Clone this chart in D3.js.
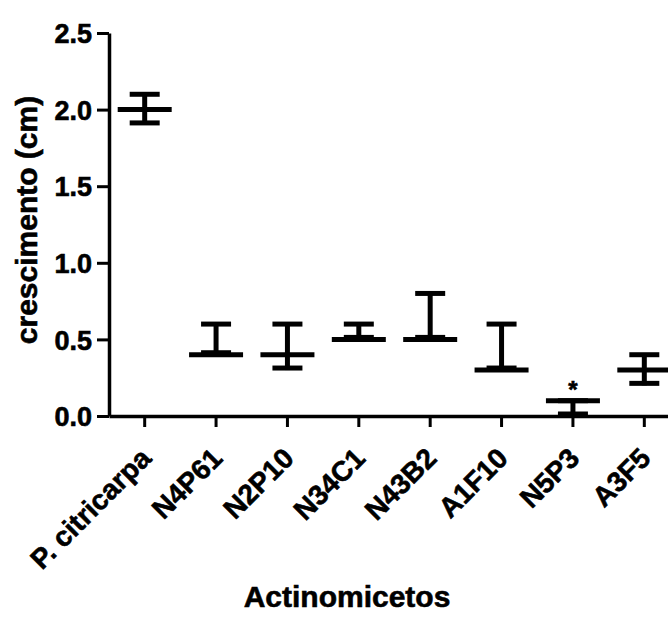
<!DOCTYPE html>
<html>
<head>
<meta charset="utf-8">
<script src="https://cdn.jsdelivr.net/npm/d3@7/dist/d3.min.js"></script>
<style>
  body { margin: 0; background: #fff; }
  svg { display: block; }
  text { font-family: "Liberation Sans", Arial, sans-serif; font-weight: bold; fill: #000; stroke: #000; stroke-width: 0.6px; }
</style>
</head>
<body>
<div id="chart"></div>
<script>
// values
const categories = ["P. citricarpa", "N4P61", "N2P10", "N34C1", "N43B2", "A1F10", "N5P3", "A3F5"];
const centers = [2.0, 0.4, 0.4, 0.5, 0.5, 0.3, 0.1, 0.3];
const lows = [1.9, 0.4, 0.3, 0.5, 0.5, 0.3, 0.0, 0.2];
const highs = [2.1, 0.6, 0.6, 0.6, 0.8, 0.6, 0.1, 0.4];
const marks = ["", "", "", "", "", "", "*", ""];
const yTicks = [0, 0.5, 1.0, 1.5, 2.0, 2.5];

const width = 668;
const height = 618;

const svg = d3.select("#chart")
    .append("svg")
    .attr("width", width)
    .attr("height", height);

const x = d3.scaleBand()
    .domain(categories)
    .range([109, 680])
    .padding(0);

const y = d3.scaleLinear()
    .domain([0, 2.5])
    .range([416, 33]);

const data = categories.map((c, i) => ({
    name: c,
    center: centers[i],
    low: lows[i],
    high: highs[i],
    mark: marks[i],
}));

// Y axis
const yAxis = svg.append("g")
    .attr("transform", "translate(109,0)")
    .call(d3.axisLeft(y).tickValues(yTicks).tickFormat(d3.format(".1f")).tickSize(12).tickSizeOuter(0).tickPadding(5));
yAxis.select(".domain").attr("stroke", "#000").attr("stroke-width", 3.5);
yAxis.selectAll(".tick line").attr("stroke", "#000").attr("stroke-width", 3);
yAxis.selectAll(".tick text")
    .style("font-size", "27px")
    .attr("dy", "0.36em");

// X axis
const xAxis = svg.append("g")
    .attr("transform", `translate(0,${y(0)})`)
    .call(d3.axisBottom(x).tickSize(11).tickSizeOuter(0).tickFormat(""));
xAxis.select(".domain").attr("stroke", "#000").attr("stroke-width", 3.5);
xAxis.selectAll(".tick line").attr("stroke", "#000").attr("stroke-width", 3);

// rotated category labels
svg.append("g")
    .selectAll("text")
    .data(data)
    .join("text")
    .attr("transform", (d) => `translate(${x(d.name) + x.bandwidth() / 2 + 8},${y(0) + 44}) rotate(-45)`)
    .attr("text-anchor", "end")
    .style("font-size", "28px")
    .text((d) => d.name);

// error bars
const bars = svg.append("g").attr("stroke", "#000").attr("stroke-width", 5);
const cx = (d) => x(d.name) + x.bandwidth() / 2;

bars.selectAll(".whisker")
    .data(data)
    .join("line")
    .attr("class", "whisker")
    .attr("x1", cx)
    .attr("x2", cx)
    .attr("y1", (d) => y(d.low))
    .attr("y2", (d) => y(d.high));

bars.selectAll(".cap-high")
    .data(data)
    .join("line")
    .attr("class", "cap-high")
    .attr("x1", (d) => cx(d) - 15)
    .attr("x2", (d) => cx(d) + 15)
    .attr("y1", (d) => y(d.high))
    .attr("y2", (d) => y(d.high));

bars.selectAll(".cap-low")
    .data(data)
    .join("line")
    .attr("class", "cap-low")
    .attr("x1", (d) => cx(d) - 15)
    .attr("x2", (d) => cx(d) + 15)
    .attr("y1", (d) => y(d.low) - 2)
    .attr("y2", (d) => y(d.low) - 2);

bars.selectAll(".mean")
    .data(data)
    .join("line")
    .attr("class", "mean")
    .attr("x1", (d) => cx(d) - 27)
    .attr("x2", (d) => cx(d) + 27)
    .attr("y1", (d) => y(d.center))
    .attr("y2", (d) => y(d.center));

// significance marks
svg.append("g")
    .selectAll("text")
    .data(data.filter((d) => d.mark))
    .join("text")
    .attr("x", cx)
    .attr("y", (d) => y(d.high) - 3)
    .attr("text-anchor", "middle")
    .style("font-size", "24px")
    .text((d) => d.mark);

// axis titles
svg.append("text")
    .attr("transform", "translate(37,220) rotate(-90)")
    .attr("text-anchor", "middle")
    .style("font-size", "30px")
    .text("crescimento (cm)");

svg.append("text")
    .attr("x", 347)
    .attr("y", 607)
    .attr("text-anchor", "middle")
    .style("font-size", "30px")
    .text("Actinomicetos");
</script>
</body>
</html>
